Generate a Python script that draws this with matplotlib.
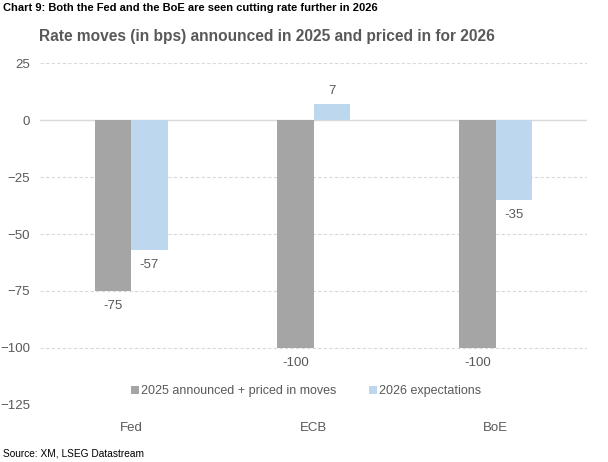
import matplotlib
matplotlib.use('Agg')
import numpy as np
from matplotlib import pyplot as plt

banks = ['Fed', 'ECB', 'BoE']
moves_2025 = [-75, -100, -100]
expect_2026 = [-57, 7, -35]
series_names = ['2025 announced + priced in moves', '2026 expectations']
yticks = [25, 0, -25, -50, -75, -100, -125]

GREY = '#A5A5A5'
BLUE = '#BDD7EE'
TXT = '#595959'

plt.rcParams['font.family'] = ['Liberation Sans', 'DejaVu Sans']
NARROW = ['Liberation Sans Narrow', 'Liberation Sans', 'DejaVu Sans']

fig = plt.figure(figsize=(6.08, 4.62), dpi=100)
ax = fig.add_axes([0.0658, 0.1234, 0.8997, 0.7402])

x = np.arange(len(banks))
w = 0.2
b1 = ax.bar(x - w / 2, moves_2025, w, color=GREY, label=series_names[0], zorder=3)
b2 = ax.bar(x + w / 2, expect_2026, w, color=BLUE, label=series_names[1], zorder=3)

for bars in (b1, b2):
    for b in bars:
        v = b.get_height()
        y = v + (3 if v > 0 else -4)
        ax.text(b.get_x() + b.get_width() / 2, y, f'{v:.0f}', ha='center',
                va='bottom' if v > 0 else 'top', fontsize=9.5, color=TXT)

ax.set_xlim(-0.5, 2.5)
ax.set_ylim(-125, 25)
ax.set_yticks(yticks)
ax.set_xticks(x)
ax.set_xticklabels(banks)
ax.tick_params(length=0, colors=TXT, labelsize=9.5)
ax.tick_params(axis='x', pad=12)
ax.tick_params(axis='y', pad=7)
for s in ax.spines.values():
    s.set_visible(False)

for t in yticks:
    if t == 0:
        ax.axhline(0, color='#D9D9D9', lw=1, zorder=2)
    else:
        ax.axhline(t, color='#D9D9D9', lw=0.8, ls=(0, (3, 2)), zorder=1)

ax.legend(loc='center', bbox_to_anchor=(0.487, 0.04), ncol=2, frameon=False,
          fontsize=9, labelcolor=TXT, handlelength=0.6, handleheight=0.6,
          handletextpad=0.2, columnspacing=2.6)

fig.text(0.064, 0.92, 'Rate moves (in bps) announced in 2025 and priced in for 2026',
         fontsize=11.2, fontweight='bold', color=TXT, ha='left', va='center')
fig.text(0.005, 0.982, 'Chart 9: Both the Fed and the BoE are seen cutting rate further in 2026',
         fontsize=8, fontweight='bold', color='black', ha='left', va='center',
         family=NARROW)
fig.text(0.005, 0.018, 'Source: XM, LSEG Datastream',
         fontsize=7.3, color='black', ha='left', va='center', family=NARROW)

fig.savefig('out.png', dpi=100)
